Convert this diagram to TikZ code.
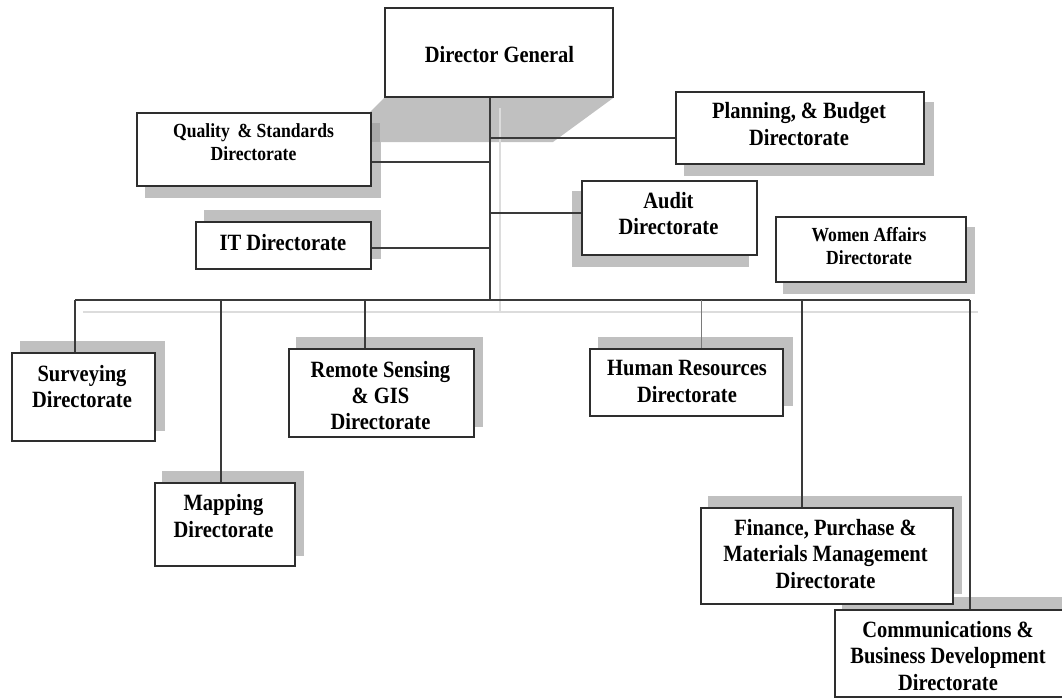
\documentclass[tikz,border=0pt]{standalone}
\usepackage{fontspec}
\setmainfont{Liberation Serif}[FakeStretch=0.88]
\usetikzlibrary{fit,backgrounds}
\definecolor{boxedge}{HTML}{2E2E2E}
\definecolor{linkgray}{HTML}{3A3A3A}
\definecolor{hrlink}{HTML}{7A7A7A}
\definecolor{faintgray}{HTML}{DCDCDC}
\definecolor{shadowgray}{HTML}{C0C0C0}
\definecolor{shadowdark}{HTML}{A9A9A9}
% drop shadow of a box, shifted by (dx,dy)
\newcommand\boxshadow[3]{%
  \fill[shadowfill] ([shift={(#2,#3)}]#1.north west) rectangle ([shift={(#2,#3)}]#1.south east);}
\begin{document}
\begin{tikzpicture}[x=1pt,y=-1pt,
  orgbox/.style={draw=boxedge, line width=1.3pt, fill=white, inner sep=0pt},
  shadowfill/.style={fill=shadowgray},
  link/.style={draw=linkgray, line width=1.2pt},
  faint/.style={draw=faintgray, line width=1.3pt},
  dtext/.style={font=\bfseries\fontsize{23.3}{26.3}\selectfont, align=center, inner sep=0pt},
  dtextsm/.style={font=\bfseries\fontsize{20}{23}\selectfont, align=center, inner sep=0pt}]
\useasboundingbox (0,0) rectangle (1062,698);

% boxes
\node[orgbox, fit={(385,8) (613,97)}] (dg) {};
\node[orgbox, fit={(137,113) (371,186)}] (qs) {};
\node[orgbox, fit={(196,222) (371,269)}] (it) {};
\node[orgbox, fit={(676,92) (924,164)}] (pb) {};
\node[orgbox, fit={(582,181) (757,255)}] (au) {};
\node[orgbox, fit={(776,217) (966,282)}] (wa) {};
\node[orgbox, fit={(12,353) (155,441)}] (sv) {};
\node[orgbox, fit={(155,483) (295,566)}] (mp) {};
\node[orgbox, fit={(289,349) (474,437)}] (rs) {};
\node[orgbox, fit={(590,349) (783,416)}] (hr) {};
\node[orgbox, fit={(701,508) (953,604)}] (fp) {};
\node[orgbox, fit={(835,610) (1068,697)}] (cb) {};

% shadows and guide lines behind the boxes
\begin{scope}[on background layer]
  \fill[shadowfill] (dg.south west) -- (dg.south east) -- (553,142) -- (340,142) -- cycle;
  \boxshadow{qs}{9}{11}
  \fill[shadowdark] (371,123) rectangle (380,142);
  \boxshadow{it}{9}{-11}
  \boxshadow{pb}{9}{11}
  \boxshadow{au}{-9}{11}
  \boxshadow{wa}{8}{11}
  \boxshadow{sv}{9}{-11}
  \boxshadow{mp}{8}{-11}
  \boxshadow{rs}{8}{-11}
  \boxshadow{hr}{9}{-11}
  \boxshadow{fp}{8}{-11}
  \boxshadow{cb}{8}{-12}
  \draw[faint] (500,108) -- (500,312);
  \draw[faint] (83,312) -- (978,312);
\end{scope}

% texts
\node[dtext] (dgt) at (499.5,54.5) {Director General};
\node[dtextsm] (qst) at (253.5,142) {Quality \,\& Standards\\Directorate};
\node[dtext] (itt) at (283,242.5) {IT Directorate};
\node[dtext] (pbt) at (799,124) {Planning, \& Budget\\Directorate};
\node[dtext] (aut) at (668.5,213.5) {Audit\\Directorate};
\node[dtextsm] (wat) at (869,246.5) {Women Affairs\\Directorate};
\node[dtext] (svt) at (82,386.5) {Surveying\\Directorate};
\node[dtext] (mpt) at (223.5,516) {Mapping\\Directorate};
\node[dtext] (rst) at (380.5,395.5) {Remote Sensing\\\& GIS\\Directorate};
\node[dtext] (hrt) at (687,381.5) {Human Resources\\Directorate};
\node[dtext] (fpt) at (825.5,554) {Finance, Purchase \&\\Materials Management\\Directorate};
\node[dtext] (cbt) at (948,656) {Communications \&\\Business Development\\Directorate};

% trunk and branches
\coordinate (trunkbot) at (490,300);
\coordinate (jq) at (490,162);
\coordinate (jp) at (490,138);
\coordinate (ja) at (490,213);
\coordinate (ji) at (490,248);
\draw[link] (dg.south -| trunkbot) -- (trunkbot);
\draw[link] (qs.east |- jq) -- (jq);
\draw[link] (jp) -- (jp -| pb.west);
\draw[link] (ja) -- (ja -| au.west);
\draw[link] (it.east |- ji) -- (ji);

% bus and drops
\coordinate (busl) at (75,300);
\coordinate (busr) at (970,300);
\coordinate (dm) at (221,300);
\coordinate (dr) at (365,300);
\coordinate (dh) at (701,300);
\coordinate (df) at (802,300);
\draw[link] (busl) -- (busr);
\draw[link] (busl) -- (busl |- sv.north);
\draw[link] (dm) -- (dm |- mp.north);
\draw[link] (dr) -- (dr |- rs.north);
\draw[draw=hrlink, line width=0.8pt] (dh) -- (dh |- hr.north);
\draw[link] (df) -- (df |- fp.north);
\draw[link] (busr) -- (busr |- cb.north);
\end{tikzpicture}
\end{document}
